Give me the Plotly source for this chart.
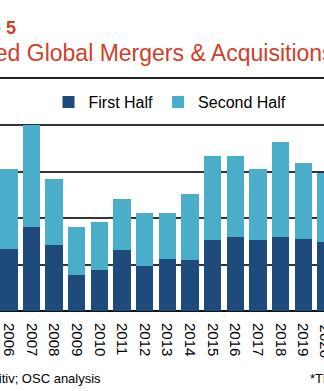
import plotly.graph_objects as go

years = [2006, 2007, 2008, 2009, 2010, 2011, 2012, 2013, 2014, 2015, 2016, 2017, 2018, 2019, 2020]
first_half = [1.33, 1.82, 1.42, 0.78, 0.88, 1.32, 0.97, 1.11, 1.10, 1.54, 1.59, 1.52, 1.60, 1.55, 1.48]
second_half = [1.72, 2.19, 1.43, 1.03, 1.03, 1.09, 1.14, 1.01, 1.42, 1.79, 1.74, 1.53, 2.03, 1.63, 1.49]

W, H = 324, 391
ML, MR, MT, MB = 0, 0, 116, 80
PLOT_H = H - MT - MB
X0 = 2005.6115
X1 = X0 + 324 / 22.65
YMAX = 4.2

def py(pix):
    return (H - MB - pix) / PLOT_H

dark = "#1f4a7c"
light = "#4aadc9"
red = "#d0402b"
font = "Liberation Sans, Arial, sans-serif"

fig = go.Figure()
fig.add_trace(go.Bar(x=years, y=first_half, name="First Half", marker=dict(color=dark, line=dict(width=0))))
fig.add_trace(go.Bar(x=years, y=second_half, name="Second Half", marker=dict(color=light, line=dict(width=0))))

fig.update_layout(
    width=W, height=H,
    margin=dict(l=ML, r=MR, t=MT, b=MB, pad=0),
    barmode="stack", bargap=0.23,
    plot_bgcolor="white", paper_bgcolor="white",
    font=dict(family=font, color="black"),
    showlegend=True,
    legend=dict(orientation="h", x=0.5 + 8 / W, xanchor="center", y=py(102), yanchor="middle",
                font=dict(size=16, family=font), traceorder="normal", itemwidth=30),
    xaxis=dict(range=[X0, X1], tickmode="array", tickvals=years[:-1], ticktext=[str(y) for y in years[:-1]],
               tickangle=90, tickfont=dict(size=15, family=font), showgrid=False,
               ticks="outside", ticklen=8, tickcolor="rgba(0,0,0,0)", showline=False, zeroline=False),
    yaxis=dict(range=[0, YMAX], dtick=1, showgrid=True, gridcolor="#333333", gridwidth=1.5,
               zeroline=True, zerolinecolor="#111111", zerolinewidth=1.5, showticklabels=False),
)

# partial 2020 tick label at right edge
fig.add_annotation(xref="paper", yref="paper", x=(2020 - X0) / (X1 - X0), y=py(323), xanchor="center", yanchor="top",
                   text=str(years[-1]), textangle=90, showarrow=False, font=dict(size=15, family=font, color="black"))

fig.add_annotation(xref="paper", yref="paper", x=17.5 / W, y=py(27.5), xanchor="right", yanchor="middle",
                   text="<b>Figure 5</b>", showarrow=False, font=dict(size=18, family=font, color=red))
fig.add_annotation(xref="paper", yref="paper", x=336 / W, y=py(52.5), xanchor="right", yanchor="middle",
                   text="Announced Global Mergers & Acquisitions", showarrow=False,
                   font=dict(size=23, family=font, color=red))
fig.add_shape(type="line", xref="paper", yref="paper", x0=0, x1=1, y0=py(78), y1=py(78),
              line=dict(color="#222222", width=2))
fig.add_annotation(xref="paper", yref="paper", x=103 / W, y=py(378), xanchor="right", yanchor="middle",
                   text="Source: Refinitiv; OSC analysis", showarrow=False, font=dict(size=13, family=font, color="black"))
fig.add_annotation(xref="paper", yref="paper", x=308 / W, y=py(378), xanchor="left", yanchor="middle",
                   text="*The 2021 figure covers the first half only", showarrow=False,
                   font=dict(size=13, family=font, color="black"))

fig.write_html("out.html")
